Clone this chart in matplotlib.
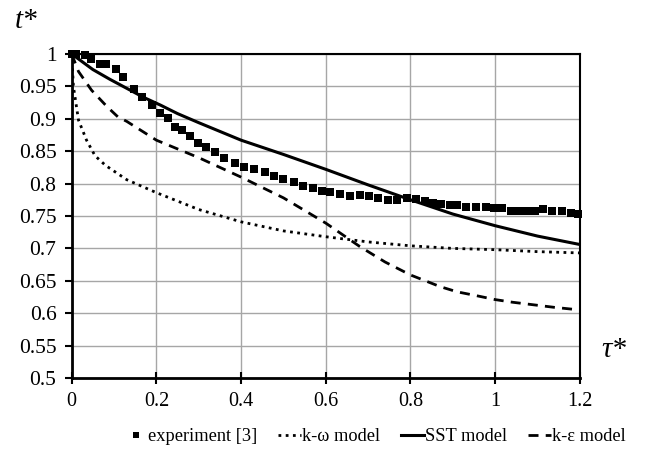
import numpy as np
import matplotlib.pyplot as plt

plt.rcParams['font.family'] = ['Liberation Serif', 'DejaVu Serif']

# experiment [3]
exp_x = [0.0, 0.01, 0.031, 0.046, 0.067, 0.080, 0.104, 0.121, 0.147, 0.166, 0.189,
         0.208, 0.227, 0.245, 0.260, 0.279, 0.298, 0.317, 0.338, 0.359, 0.385,
         0.407, 0.430, 0.456, 0.478, 0.499, 0.525, 0.546, 0.570, 0.591, 0.610,
         0.633, 0.657, 0.680, 0.702, 0.723, 0.747, 0.768, 0.791, 0.813, 0.834,
         0.853, 0.872, 0.893, 0.909, 0.931, 0.955, 0.978, 0.997, 1.016, 1.037,
         1.056, 1.075, 1.094, 1.113, 1.134, 1.158, 1.178, 1.195]
exp_y = [1.0, 1.0, 0.998, 0.992, 0.985, 0.985, 0.977, 0.965, 0.946, 0.934, 0.921,
         0.909, 0.901, 0.888, 0.883, 0.873, 0.863, 0.856, 0.849, 0.840, 0.832,
         0.826, 0.823, 0.818, 0.812, 0.807, 0.802, 0.796, 0.793, 0.789, 0.787,
         0.784, 0.781, 0.782, 0.781, 0.778, 0.775, 0.775, 0.778, 0.776, 0.773,
         0.770, 0.769, 0.767, 0.767, 0.764, 0.764, 0.764, 0.762, 0.762, 0.758,
         0.758, 0.758, 0.758, 0.761, 0.758, 0.758, 0.755, 0.753]

# k-omega model
kw_x = [0.0, 0.004, 0.016, 0.035, 0.055, 0.08, 0.13, 0.2, 0.3, 0.4, 0.5,
        0.6, 0.7, 0.8, 0.9, 1.0, 1.1, 1.2]
kw_y = [1.0, 0.95, 0.898, 0.867, 0.843, 0.828, 0.806, 0.786, 0.760, 0.741,
        0.727, 0.718, 0.710, 0.704, 0.700, 0.698, 0.695, 0.693]

# SST model
sst_x = [0.0, 0.05, 0.09, 0.13, 0.17, 0.21, 0.25, 0.3, 0.4, 0.5, 0.6, 0.7, 0.8,
         0.9, 1.0, 1.1, 1.2]
sst_y = [1.0, 0.976, 0.961, 0.947, 0.933, 0.921, 0.908, 0.894, 0.867, 0.845,
         0.822, 0.798, 0.775, 0.753, 0.735, 0.719, 0.706]

# k-epsilon model
ke_x = [0.0, 0.016, 0.047, 0.083, 0.109, 0.13, 0.2, 0.3, 0.4, 0.5, 0.6, 0.68,
        0.74, 0.8, 0.87, 0.91, 0.956, 1.0, 1.04, 1.09, 1.14, 1.2]
ke_y = [1.0, 0.973, 0.944, 0.919, 0.903, 0.896, 0.867, 0.840, 0.810, 0.778,
        0.739, 0.703, 0.679, 0.659, 0.641, 0.633, 0.627, 0.621, 0.617, 0.613,
        0.609, 0.605]

fig = plt.figure(figsize=(6.49, 4.5), dpi=100)
ax = fig.add_axes([0.1105, 0.16, 0.783, 0.72])

ax.plot(kw_x, kw_y, color='black', lw=2, dashes=(1, 1.6), label='k-ω model')
ax.plot(sst_x, sst_y, color='black', lw=2.2, label='SST model')
ax.plot(ke_x, ke_y, color='black', lw=2, dashes=(3.6, 2.6), label='k-ε model')
ax.plot(exp_x, exp_y, 's', color='black', ms=6, mew=0, clip_on=False, zorder=5,
        label='experiment [3]')

ax.set_xlim(0, 1.2)
ax.set_ylim(0.5, 1.0)
ax.set_xticks(np.arange(0, 1.21, 0.2))
ax.set_yticks(np.arange(0.5, 1.001, 0.05))
ax.set_xticklabels(['0', '0.2', '0.4', '0.6', '0.8', '1', '1.2'])
ax.set_yticklabels(['0.5', '0.55', '0.6', '0.65', '0.7', '0.75', '0.8', '0.85',
                    '0.9', '0.95', '1'])
ax.grid(True, color='#a6a6a6', lw=1)
ax.set_axisbelow(True)
for s in ax.spines.values():
    s.set_color('black')
    s.set_linewidth(1.5)
ax.spines['left'].set_linewidth(2)
ax.spines['bottom'].set_linewidth(2)
ax.tick_params(axis='x', direction='inout', length=8, width=1.5, labelsize=14.5,
               colors='black', pad=6)
ax.tick_params(axis='y', direction='out', length=5, width=1.5, labelsize=15.5,
               colors='black', pad=6)

fig.text(0.023, 0.953, 't*', fontsize=21, style='italic', ha='left', va='center')
fig.text(0.946, 0.222, 'τ*', fontsize=21, style='italic', ha='center', va='center')

h, l = ax.get_legend_handles_labels()
order = [3, 0, 1, 2]
fig.legend([h[i] for i in order], [l[i] for i in order], loc='center',
           bbox_to_anchor=(0.578, 0.029), ncol=4, frameon=False, fontsize=13.2,
           handlelength=1.25, handletextpad=0.05, columnspacing=1.15, markerscale=0.8)

fig.savefig('out.png', dpi=100)
